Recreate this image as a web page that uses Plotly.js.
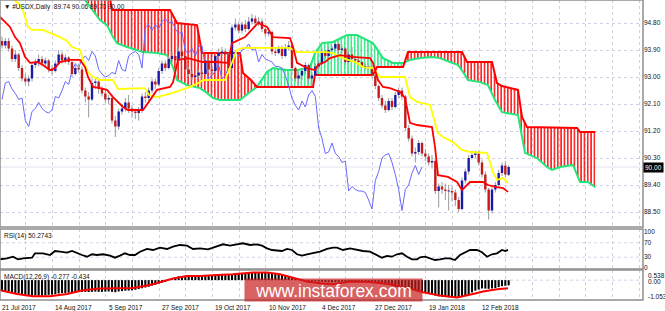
<!DOCTYPE html>
<html><head><meta charset="utf-8">
<script src="https://cdn.plot.ly/plotly-3.0.1.min.js"></script>
<style>html,body{margin:0;padding:0;background:#fff;}#chart{width:665px;height:311px;}</style>
</head><body><div id="chart"></div>
<script>
// ---------- data (bar index 0 = 21 Jul 2017) ----------
const dateIdx = [0,16,32,48,64,80,96,112,128,144];
const dateLabels = ['21 Jul 2017','14 Aug 2017','5 Sep 2017','27 Sep 2017','19 Oct 2017','10 Nov 2017','4 Dec 2017','27 Dec 2017','19 Jan 2018','12 Feb 2018'];
const priceTicks = [88.5,89.4,90.3,91.2,92.1,93.0,93.9,94.8];

const open = [94.20,94.05,94.20,93.95,93.60,93.75,93.30,92.95,92.85,92.95,
93.40,93.50,93.60,93.45,93.55,93.25,93.20,93.45,93.75,93.55,
93.65,93.50,93.10,93.30,93.25,92.55,92.35,92.25,92.80,92.85,
92.60,92.45,92.25,92.30,91.55,91.35,91.85,91.95,92.15,91.95,
91.85,91.80,91.90,92.35,92.30,92.55,92.85,92.75,93.20,93.45,
93.30,93.60,93.70,93.55,93.85,93.70,93.25,93.10,93.00,93.05,
93.15,93.10,93.55,93.25,93.20,93.70,93.80,93.85,93.75,93.30,
94.65,94.75,94.55,94.75,94.60,94.85,94.95,94.80,94.85,94.60,
94.45,94.50,93.85,93.80,93.95,93.70,94.00,94.05,93.30,92.95,
93.05,93.20,93.40,92.95,93.05,93.35,93.45,93.85,93.70,93.90,
93.95,94.10,93.90,93.95,93.50,93.75,93.60,93.55,93.50,93.35,
93.35,93.30,93.05,92.70,92.30,92.05,91.90,92.20,92.00,92.40,
92.55,92.35,91.30,90.95,90.45,90.50,90.80,90.45,90.35,90.15,
90.20,89.20,89.35,89.25,89.20,89.20,89.15,88.90,88.60,89.55,
89.85,90.30,90.40,90.45,90.15,89.75,89.25,88.55,89.25,89.40,
89.80,90.05,89.74];
const high = [94.35,94.30,94.30,94.05,93.90,93.80,93.40,93.10,93.05,93.50,
93.60,93.75,93.70,93.65,93.60,93.40,93.55,93.90,93.85,93.75,
93.70,93.55,93.40,93.45,93.35,92.65,92.50,92.95,92.95,92.90,
92.70,92.55,92.40,92.35,91.70,91.95,92.10,92.30,92.40,92.05,
91.95,92.00,92.45,92.50,92.65,92.95,92.95,93.30,93.55,93.55,
93.70,93.85,93.80,94.00,93.95,93.75,93.35,93.20,93.15,93.25,
93.25,93.65,93.60,93.35,93.80,93.95,94.00,93.95,93.80,94.75,
94.95,94.85,94.85,94.90,95.00,95.10,95.05,95.00,94.95,94.70,
94.65,94.55,94.00,94.05,94.05,94.10,94.20,94.10,93.35,93.15,
93.30,93.50,93.45,93.15,93.45,93.55,93.95,93.90,94.00,94.05,
94.20,94.15,94.05,94.00,93.85,94.00,93.70,93.65,93.55,93.45,
93.40,93.40,93.10,92.75,92.40,92.20,92.30,92.30,92.50,92.65,
92.65,92.40,91.40,91.05,90.65,90.90,90.85,90.60,90.45,90.40,
90.25,89.45,89.50,89.45,89.40,89.35,89.25,89.00,89.65,89.95,
90.40,90.55,90.55,90.55,90.25,89.85,89.30,89.35,89.50,89.90,
90.15,90.20,90.06];
const low = [93.95,93.95,93.85,93.50,93.50,93.20,92.85,92.75,92.70,92.85,
93.30,93.35,93.35,93.30,93.15,93.05,93.15,93.40,93.45,93.45,
93.40,93.00,93.05,93.15,92.45,92.15,91.65,92.20,92.60,92.45,
92.35,92.15,92.10,91.45,91.00,91.25,91.75,91.85,91.80,91.65,
91.60,91.55,91.80,92.15,92.20,92.45,92.60,92.70,93.10,93.20,
93.25,93.50,93.45,93.50,93.60,93.15,93.00,92.90,92.90,92.95,
92.95,93.05,93.15,93.05,93.15,93.60,93.70,93.65,93.20,93.25,
94.55,94.45,94.45,94.50,94.55,94.75,94.70,94.70,94.50,94.35,
94.35,93.75,93.70,93.75,93.60,93.65,93.90,93.20,92.85,92.75,
92.90,93.10,92.80,92.75,92.95,93.25,93.40,93.60,93.65,93.75,
93.85,93.80,93.80,93.40,93.45,93.50,93.45,93.40,93.30,93.25,
93.25,92.95,92.60,92.20,91.95,91.80,91.85,91.90,91.95,92.30,
92.25,91.20,90.85,90.35,90.15,90.40,90.35,90.20,90.05,89.95,
89.10,88.65,89.10,88.90,88.55,88.85,88.70,88.50,88.55,89.45,
89.75,90.25,90.30,90.05,89.65,89.15,88.25,88.45,89.15,89.30,
89.70,89.65,89.70];
const close = [94.05,94.20,93.95,93.60,93.75,93.30,92.95,92.85,92.95,93.40,
93.50,93.60,93.45,93.55,93.25,93.20,93.45,93.75,93.55,93.65,
93.50,93.10,93.30,93.25,92.55,92.35,92.25,92.80,92.85,92.60,
92.45,92.25,92.30,91.55,91.35,91.85,91.95,92.15,91.95,91.85,
91.80,91.90,92.35,92.30,92.55,92.85,92.75,93.20,93.45,93.30,
93.60,93.70,93.55,93.85,93.70,93.25,93.10,93.00,93.05,93.15,
93.10,93.55,93.25,93.20,93.70,93.80,93.85,93.75,93.30,94.65,
94.75,94.55,94.75,94.60,94.85,94.95,94.80,94.85,94.60,94.45,
94.50,93.85,93.80,93.95,93.70,94.00,94.05,93.30,92.95,93.05,
93.20,93.40,92.95,93.05,93.35,93.45,93.85,93.70,93.90,93.95,
94.10,93.90,93.95,93.50,93.75,93.60,93.55,93.50,93.35,93.35,
93.30,93.05,92.70,92.30,92.05,91.90,92.20,92.00,92.40,92.55,
92.35,91.30,90.95,90.45,90.50,90.80,90.45,90.35,90.15,90.20,
89.20,89.35,89.25,89.20,89.20,89.15,88.90,88.60,89.55,89.85,
90.30,90.40,90.45,90.15,89.75,89.25,88.55,89.25,89.40,89.80,
90.05,89.75,90.00];

// Ichimoku lines (vertices, x = bar index)
const tenkanX = [-0.6,2.4,3.9,5.4,6.9,8.4,10.5,12.3,14.4,15.9,17.4,20.4,23.4,24.9,25.8,27.3,29.4,31.5,33.3,34.8,36.3,37.8,42.3,44.4,46.5,50.4,51.3,52.8,55.8,60.3,64.5,67.8,69,72.9,76.8,79.5,81.3,86.4,87.3,88.5,91.5,93.9,94.8,96.9,98.4,101.4,105,110.4,111.3,112.8,114.3,116.4,119.4,120.9,122.4,124.5,129,129.9,130.8,133.8,136.5,138,138.9,140.4,144.3,145.8,148.5,150.3,151.8];
const tenkanY = [95.0,94.67,94.33,94.13,93.67,93.47,93.5,93.4,93.23,93.3,93.5,93.57,93.57,93.33,93.0,92.67,92.63,92.57,92.33,92.17,92.0,91.9,91.9,92.23,92.57,92.67,92.83,93.57,93.63,93.5,93.5,93.47,94.13,94.33,94.8,94.67,94.33,94.3,94.0,93.47,93.3,93.23,93.4,93.5,93.63,93.73,93.67,93.63,93.47,92.9,92.67,92.63,92.5,92.3,91.47,91.4,91.33,90.67,89.73,89.67,89.5,89.23,89.33,89.5,89.5,89.4,89.33,89.3,89.17];
const kijunX = [-0.6,4.8,6.3,7.8,9,12.3,14.4,17.4,19.5,21,23.4,24.6,25.8,27.3,29.4,33.3,34.8,42.9,44.1,46.5,51.3,56.4,59.4,60.3,66.9,68.4,70.5,72.3,86.4,88.5,97.5,99.3,102.3,106.5,108.3,111.3,113.4,120.9,122.4,124.5,128.4,130.8,132.3,135.3,138,140.4,145.5,147.3,148.5,150.3,151.8];
const kijunY = [95.9,95.47,95.23,94.67,94.57,94.57,94.47,94.33,94.2,94.0,93.9,93.47,93.17,93.0,92.9,92.9,92.6,92.63,92.4,92.33,92.47,92.67,92.83,92.9,92.9,93.33,93.9,93.97,93.97,93.83,93.83,93.8,93.63,93.47,93.33,93.3,93.0,93.0,92.33,92.17,92.07,91.13,91.0,90.83,90.57,90.5,90.47,89.83,89.57,89.63,89.47];
const spanAX = [0,20,24.9,27.3,29.4,31.5,33.3,34.5,37.5,40.5,42.3,46.5,49.5,51.3,52.5,55.5,59.4,61.5,63.3,65.4,71.4,74.4,76.5,78.3,79.5,81.3,85.5,88.5,92.4,93.9,96,99.3,103.5,106.5,111.3,114.3,117.3,120.3,120.75,122.4,125.4,129,131.4,134.4,136.8,138.3,139.8,143.4,145.8,147.9,150,154.8,156.9,160.5,163.5,165,167.4,171.3,173.4,175.8,178];
const spanAY = [96.6,96.1,95.57,95.23,94.9,94.73,94.33,94.13,94.0,93.9,93.83,93.8,93.73,93.33,92.9,92.73,92.63,92.47,92.3,92.23,92.23,92.5,92.67,92.97,93.17,93.3,93.23,93.23,93.33,93.8,94.13,94.17,94.4,94.4,94.13,93.63,93.47,93.47,93.48,93.57,93.63,93.67,93.63,93.5,93.4,93.17,92.9,92.83,92.73,92.23,91.83,91.73,90.47,90.3,90.0,89.9,90.0,90.07,89.5,89.5,89.33];
const spanBX = [0,32,33,50.4,52.5,58.5,60,71.4,72.3,74.7,76.5,93.3,93.9,111.3,112.5,120.3,120.75,121.8,138,139.5,147,148.5,150,154.8,156,157.5,172.5,173.4,178];
const spanBY = [95.9,95.9,95.23,95.23,94.8,94.73,93.8,93.8,93.13,92.9,92.67,92.67,93.07,93.07,93.33,93.33,93.48,93.83,93.83,93.5,93.5,92.8,92.7,92.57,91.67,91.33,91.3,91.17,91.17];
const cloudCross = [0,76.5,120.75,178];   // where span A and span B cross
const cloudBear = [true,false,true];      // red (B above A) or green

// RSI(14)
const rsiX = [-0.6,1.5,3.3,4.8,6.3,9,9.9,12.3,14.4,15.9,17.4,19.5,21,22.5,24,25.5,27,28.5,30.3,32.4,33.9,35.4,36.9,38.4,39.9,41.4,43.5,45.3,47.4,49.5,51.3,53.4,55.5,57.3,59.4,61.8,63.3,64.8,66.3,68.4,70.5,72.3,74.4,76.5,78,79.5,81,82.5,84,85.5,87,88.5,90,91.5,93.3,95.4,97.5,99.3,100.5,102.3,104.4,106.5,108.3,110.4,112.5,114,115.5,117,118.5,120,121.5,123,124.5,125.4,126.9,128.4,129.9,131.4,132.9,134.4,135.9,137.4,138.9,140.4,142.5,144,145.5,147,148.5,150,151,151.8];
const rsiV = [24.2,26.9,31.4,24.2,26.9,28.6,40.8,40.8,36.1,47.2,45.3,42.5,47.2,40.8,36.1,31.4,38.1,36.1,38.1,34.2,28.6,34.2,40.8,36.1,36.1,45.3,52.8,50,56.4,52.8,59.2,63.9,61.9,52.8,54.7,51.9,56.4,59.2,65.8,61.9,65.8,68.6,63.9,65.8,61.9,54.7,50,48.1,47.2,52.8,50,38.1,34.2,38.1,40.8,45.3,52.8,56.4,56.4,50,54.7,50,47.2,45.3,36.1,28.6,33.3,31.4,38.1,40.8,31.4,24.2,24.2,29.7,31.4,26.9,22.2,24.2,26.9,26.9,22.2,36.1,43.6,50,50,43.6,31.4,38.1,40.8,50,47.2,50.3];

// MACD(12,26,9): histogram per bar, signal vertices
const macd = [-0.54,-0.58,-0.61,-0.65,-0.68,-0.71,-0.75,-0.78,-0.80,-0.80,
-0.81,-0.82,-0.82,-0.80,-0.78,-0.77,-0.75,-0.71,-0.69,-0.68,
-0.66,-0.66,-0.64,-0.63,-0.63,-0.62,-0.63,-0.62,-0.61,-0.62,
-0.62,-0.61,-0.60,-0.62,-0.64,-0.60,-0.58,-0.56,-0.55,-0.54,
-0.51,-0.47,-0.43,-0.39,-0.35,-0.29,-0.24,-0.18,-0.13,-0.08,
0.01,0.10,0.15,0.20,0.22,0.23,0.24,0.24,0.24,0.25,
0.25,0.26,0.25,0.25,0.26,0.26,0.27,0.28,0.28,0.30,
0.32,0.34,0.36,0.38,0.40,0.41,0.42,0.42,0.41,0.41,
0.41,0.38,0.35,0.33,0.29,0.25,0.21,0.16,0.11,0.06,
0.02,-0.02,-0.04,-0.06,-0.07,-0.08,-0.09,-0.10,-0.11,-0.12,
-0.11,-0.10,-0.08,-0.07,-0.06,-0.05,-0.05,-0.05,-0.06,-0.07,
-0.08,-0.09,-0.12,-0.16,-0.19,-0.22,-0.26,-0.31,-0.35,-0.39,
-0.44,-0.48,-0.50,-0.53,-0.55,-0.58,-0.63,-0.68,-0.73,-0.77,
-0.82,-0.86,-0.88,-0.90,-0.91,-0.92,-0.92,-0.91,-0.90,-0.82,
-0.74,-0.65,-0.56,-0.50,-0.44,-0.45,-0.46,-0.44,-0.42,-0.37,
-0.32,-0.30,-0.277];
const sigX = [-0.6,4.5,9.3,14.4,19.5,24.3,29.4,34.5,39.3,44.4,47.4,51.3,55.5,59.4,64.5,69.3,75.3,79.5,83.4,87.3,91.5,95.4,99.3,104.4,110.4,116.4,122.4,126.3,131.4,136.5,138.3,141.3,144.3,148.5,151.8];
const sigY = [-0.54,-0.73,-0.86,-0.86,-0.73,-0.54,-0.44,-0.44,-0.41,-0.26,-0.10,0.085,0.22,0.22,0.27,0.31,0.41,0.41,0.31,0.125,-0.07,-0.16,-0.22,-0.07,-0.10,-0.22,-0.44,-0.64,-0.82,-0.92,-0.86,-0.73,-0.60,-0.48,-0.434];

// ---------- build ----------
const FONT = 'Liberation Sans, Arial, sans-serif';
const RED = '#ff0000', GREEN = '#22e67a';
const idx = close.map((_, i) => i);
const traces = [];

function seg(xs, ys, a, b) {
  const X = [], Y = [];
  xs.forEach((x, k) => { if (x >= a && x <= b) { X.push(x); Y.push(ys[k]); } });
  return {X, Y};
}
for (let s = 0; s < 3; s++) {
  const a = cloudCross[s], b = cloudCross[s + 1];
  const A = seg(spanAX, spanAY, a, b), B = seg(spanBX, spanBY, a, b);
  const lower = cloudBear[s] ? A : B, upper = cloudBear[s] ? B : A;
  const col = cloudBear[s] ? RED : GREEN;
  traces.push({x: lower.X, y: lower.Y, mode: 'lines', line: {width: 0}, xaxis: 'x', yaxis: 'y'});
  traces.push({x: upper.X, y: upper.Y, mode: 'lines', line: {width: 0}, fill: 'tonexty',
    fillcolor: 'rgba(0,0,0,0)',
    fillpattern: {shape: '|', fgcolor: col, bgcolor: 'rgba(255,255,255,0)', size: 3.33, solidity: 0.42},
    xaxis: 'x', yaxis: 'y'});
}
traces.push({x: spanAX, y: spanAY, mode: 'lines', line: {color: GREEN, width: 2}, xaxis: 'x', yaxis: 'y'});
traces.push({x: spanBX, y: spanBY, mode: 'lines', line: {color: RED, width: 2}, xaxis: 'x', yaxis: 'y'});

// chikou = closes drawn 26 bars back
traces.push({x: idx.slice(26).map(i => i - 26), y: close.slice(26), mode: 'lines',
  line: {color: 'rgb(105,105,255)', width: 1}, xaxis: 'x', yaxis: 'y'});

// wicks
const wx = [], wy = [];
idx.forEach(i => { wx.push(i, i, null); wy.push(low[i], high[i], null); });
traces.push({x: wx, y: wy, mode: 'lines', line: {color: '#9a9a9a', width: 1}, xaxis: 'x', yaxis: 'y'});
// bodies
const ux = [], uy = [], dx = [], dy = [];
idx.forEach(i => {
  let o = open[i], c = close[i];
  if (Math.abs(c - o) < 0.03) { const m = (o + c) / 2; o = m - 0.015; c = m + 0.015; }
  if (close[i] >= open[i]) { ux.push(i, i, null); uy.push(o, c, null); }
  else { dx.push(i, i, null); dy.push(o, c, null); }
});
traces.push({x: ux, y: uy, mode: 'lines', line: {color: '#1a1aa6', width: 2.4}, xaxis: 'x', yaxis: 'y'});
traces.push({x: dx, y: dy, mode: 'lines', line: {color: '#c41a1a', width: 2.4}, xaxis: 'x', yaxis: 'y'});

traces.push({x: kijunX, y: kijunY, mode: 'lines', line: {color: '#ffff00', width: 1.8}, xaxis: 'x', yaxis: 'y'});
traces.push({x: tenkanX, y: tenkanY, mode: 'lines', line: {color: RED, width: 1.8}, xaxis: 'x', yaxis: 'y'});

traces.push({x: rsiX, y: rsiV, mode: 'lines', line: {color: '#000', width: 1.8}, xaxis: 'x', yaxis: 'y2'});

traces.push({type: 'bar', x: idx, y: macd, marker: {color: '#000', line: {width: 0}}, width: 0.62, xaxis: 'x', yaxis: 'y3'});
traces.push({x: sigX, y: sigY, mode: 'lines', line: {color: RED, width: 2}, xaxis: 'x', yaxis: 'y3'});

// ---------- layout ----------
const gridCol = 'rgb(208,208,228)';
const gridX = [];
for (let k = 0; k <= 24; k++) gridX.push(8 * k - 0.9);
const D_MACD = [0, 0.1], D_RSI = [0.1033, 0.2367], D_MAIN = [0.2433, 1];
const tf = {family: FONT, size: 6.5, color: '#111'};

const annotations = [];
dateIdx.forEach((d, k) => annotations.push({x: d, xref: 'x', y: 0, yref: 'paper', xanchor: 'left', yanchor: 'top',
  yshift: -2, xshift: -2, text: dateLabels[k], showarrow: false, font: tf}));
annotations.push({x: 0, xref: 'paper', y: 1, yref: 'paper', xanchor: 'left', yanchor: 'top', xshift: 2, yshift: -1,
  text: '\u25BC #USDX,Daily  ' + open[152].toFixed(2) + ' ' + high[152].toFixed(2) + ' ' + low[152].toFixed(2) + ' ' + close[152].toFixed(2),
  showarrow: false, font: tf});
annotations.push({x: 0, xref: 'paper', y: D_RSI[1], yref: 'paper', xanchor: 'left', yanchor: 'top', xshift: 2, yshift: -1,
  text: 'RSI(14) 50.2743', showarrow: false, font: tf});
annotations.push({x: 0, xref: 'paper', y: D_MACD[1], yref: 'paper', xanchor: 'left', yanchor: 'top', xshift: 2, yshift: -1,
  text: 'MACD(12,26,9) -0.277 -0.434', showarrow: false, font: tf});
// MACD scale labels
[['0.538', 0.0833], ['0.00', 0.0633], ['-1.053', 0.0133]].forEach(([t, yy]) => annotations.push({
  x: 1, xref: 'paper', y: yy, yref: 'paper', xanchor: 'left', yanchor: 'middle', xshift: 3,
  text: t, showarrow: false, font: tf}));
// last price box
annotations.push({x: 1, xref: 'paper', y: close[152], yref: 'y', xanchor: 'left', yanchor: 'middle', xshift: 0,
  text: close[152].toFixed(2), showarrow: false, bgcolor: '#000', borderpad: 1,
  font: {family: FONT, size: 6.5, color: '#fff'}});
// watermark (box kept just above the date row)
annotations.push({x: 0.5187, xref: 'paper', y: 0.0333, yref: 'paper', xanchor: 'center', yanchor: 'middle',
  text: 'www.instaforex.com', showarrow: false, width: 177, height: 22, valign: 'bottom', bgcolor: 'rgba(200,30,30,0.7)',
  borderpad: 0, font: {family: FONT, size: 17.5, color: '#fff'}});

const border = '#8e8e8e';
const shapes = [
  {type: 'line', xref: 'paper', x0: 0, x1: 1, yref: 'y', y0: 90, y1: 90, line: {color: '#e2e2ee', width: 1}, layer: 'below'},
  {type: 'line', xref: 'paper', x0: 0, x1: 1, yref: 'y2', y0: 30, y1: 30, line: {color: gridCol, width: 1, dash: 'dot'}, layer: 'below'},
  {type: 'line', xref: 'paper', x0: 0, x1: 1, yref: 'y2', y0: 70, y1: 70, line: {color: gridCol, width: 1, dash: 'dot'}, layer: 'below'},
  {type: 'line', xref: 'paper', x0: 0, x1: 1, yref: 'y3', y0: 0, y1: 0, line: {color: gridCol, width: 1, dash: 'dot'}, layer: 'below'},
  {type: 'rect', xref: 'paper', x0: 0, x1: 1, yref: 'paper', y0: D_MAIN[0], y1: D_MAIN[1], line: {color: border, width: 1.5}},
  {type: 'rect', xref: 'paper', x0: 0, x1: 1, yref: 'paper', y0: D_RSI[0], y1: D_RSI[1], line: {color: border, width: 1.5}},
  {type: 'rect', xref: 'paper', x0: 0, x1: 1, yref: 'paper', y0: D_MACD[0], y1: D_MACD[1], line: {color: border, width: 1.5}}
];

const layout = {
  width: 665, height: 311, margin: {l: 0, r: 22, t: 0, b: 11},
  paper_bgcolor: '#fff', plot_bgcolor: '#fff', showlegend: false, hovermode: false, barmode: 'overlay',
  xaxis: {range: [-0.6, 192.3], anchor: 'y3', tickvals: gridX, showticklabels: false, ticks: '',
    showgrid: true, gridcolor: gridCol, griddash: 'dot', gridwidth: 1, zeroline: false, showline: false},
  yaxis: {domain: D_MAIN, range: [88.0, 95.567], side: 'right', anchor: 'x', tickvals: priceTicks,
    ticktext: priceTicks.map(v => v.toFixed(2)), tickfont: tf, ticks: '', showgrid: true, gridcolor: gridCol,
    griddash: 'dot', zeroline: false, showline: false},
  yaxis2: {domain: D_RSI, range: [-2.8, 108.3], side: 'right', anchor: 'x', tickvals: [0, 30, 70, 100],
    tickfont: tf, ticks: '', showgrid: false, zeroline: false, showline: false},
  yaxis3: {domain: D_MACD, range: [-1.053, 0.538], side: 'right', anchor: 'x', showticklabels: false, ticks: '',
    showgrid: false, zeroline: false, showline: false},
  annotations: annotations, shapes: shapes
};

Plotly.newPlot('chart', traces, layout, {staticPlot: true, displayModeBar: false});
</script>
</body></html>
